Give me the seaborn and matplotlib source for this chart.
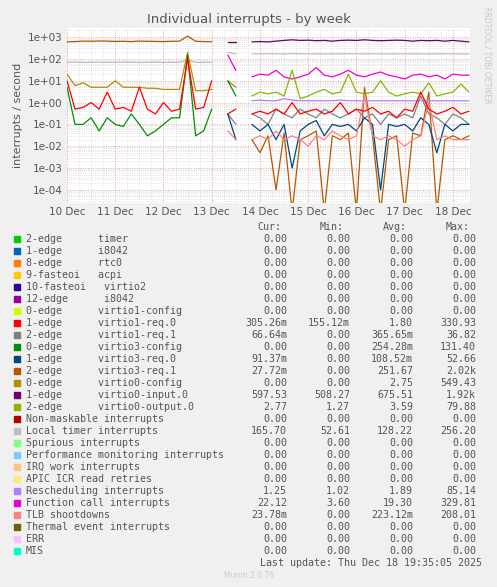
import numpy as np
import pandas as pd
import matplotlib
matplotlib.use("Agg")
import matplotlib.pyplot as plt
import matplotlib.dates as mdates
from matplotlib.ticker import LogLocator, FixedLocator
import seaborn as sns

N = np.nan

# 4-hourly samples, 10 Dec 00:00 .. 18 Dec 08:00 (51 points)
times = pd.date_range("2025-12-10 00:00", periods=51, freq="4h")

pre_gap = [N]  # idx 19
mid_gap = [N]  # idx 22

brown_pre = [600, 620, 650, 640, 660, 650, 630, 640, 620, 650, 640, 630, 620, 640, 650, 1100, 640, 620, 610]
brown_post = [0.02, 0.005, 0.03, 0.0001, 0.04, 0.00001, 0.02, 0.03, 0.05, 0.00001, 0.03, 0.02, 0.04, 0.00001,
              5, 0.03, 0.00001, 0.02, 0.03, 0.00001, 0.04, 0.03, 3, 0.00001, 0.02, 0.03, 0.02, 0.03]
virtio3_req1 = brown_pre + pre_gap + [600, 600] + mid_gap + brown_post

local_timer = ([70, 72, 68, 70, 71, 69, 70, 72, 70, 68, 70, 71, 69, 70, 70, 90, 70, 70, 70] + pre_gap
               + [200, 170] + mid_gap
               + [170, 170, 172, 170, 168, 175, 170, 170, 170, 168, 170, 170, 172, 170, 170, 170, 170, 168,
                  170, 170, 170, 170, 168, 170, 170, 170, 168, 165])

virtio0_config = ([20, 6, 8, 5, 5, 5, 10, 5, 5, 5, 4.5, 4.5, 4, 4, 4, 200, 3.5, 3.5, 4] + pre_gap
                  + [10, 5] + mid_gap + [N] * 28)

virtio1_req0 = ([10, 0.5, 0.6, 1, 0.5, 3, 0.5, 0.6, 0.4, 5, 0.5, 0.3, 1, 0.4, 0.5, 100, 0.5, 0.6, 10] + pre_gap
                + [0.3, 0.5] + mid_gap
                + [0.3, 0.4, 0.3, 0.5, 0.3, 1, 0.3, 0.4, 0.5, 0.3, 0.4, 1, 0.3, 0.5, 0.4, 0.6, 0.3, 0.4,
                   0.2, 0.5, 0.4, 3, 0.5, 0.3, 0.4, 0.6, 0.3, 0.4])

virtio3_config = ([5, 0.1, 0.1, 0.2, 0.05, 0.2, 0.1, 0.08, 0.3, 0.1, 0.03, 0.05, 0.1, 0.2, 0.2, 150, 0.03, 0.05, 0.5]
                  + pre_gap + [10, 2] + mid_gap + [N] * 28)

function_call = ([N] * 19 + pre_gap + [150, 30] + mid_gap
                 + [15, 20, 18, 30, 15, 12, 15, 20, 40, 18, 15, 20, 30, 18, 15, 20, 25, 18, 15, 12, 18, 20,
                    15, 18, 12, 20, 18, 18])

virtio0_output = ([N] * 19 + pre_gap + [N, N] + mid_gap
                  + [2, 3, 2.5, 3, 2, 30, 1.5, 2, 3, 4, 2.5, 3, 20, 3, 2.5, 3, 10, 3, 2, 2.5, 3, 2.5, 8, 2,
                     2.5, 3, 7, 3])

virtio0_input = ([N] * 19 + pre_gap + [600, 600] + mid_gap
                 + [600, 620, 600, 650, 700, 750, 700, 720, 680, 700, 650, 700, 720, 700, 750, 700, 680, 700,
                    720, 700, 650, 700, 680, 700, 650, 700, 650, 600])

rescheduling = ([N] * 19 + pre_gap + [N, N] + mid_gap
                + [1.2, 1.3, 1.2, 1.2, 1.5, 1.3, 1.2, 1.2, 1.2, 1.2, 1.2, 1.3, 1.2, 1.2, 1.2, 1.2, 1.2, 1.2,
                   1.2, 1.2, 1.2, 1.2, 1.2, 1.2, 1.2, 1.2, 1.2, 1.2])

virtio1_req1 = ([N] * 19 + pre_gap + [0.3, 0.1] + mid_gap
                + [0.3, 0.2, 0.1, 0.5, 0.3, 0.2, 0.5, 0.3, 0.2, 0.5, 0.3, 0.2, 0.3, 0.5, 0.2, 0.3, 0.1, 0.3,
                   0.2, 0.3, 0.2, 2, 0.3, 0.2, 0.1, 0.3, 0.2, 0.1])

virtio3_req0 = ([N] * 19 + pre_gap + [0.3, 0.02] + mid_gap
                + [0.1, 0.05, 0.1, 0.02, 0.1, 0.001, 0.05, 0.1, 0.15, 0.03, 0.1, 0.08, 0.1, 0.05, 0.2, 0.1,
                   0.0001, 0.1, 0.08, 0.1, 0.05, 0.2, 0.1, 0.005, 0.1, 0.05, 0.1, 0.1])

tlb = ([N] * 19 + pre_gap + [0.05, 0.02] + mid_gap
       + [0.02, 0.03, 0.02, 0.05, 0.02, 0.03, 0.02, 0.01, 0.03, 0.02, 0.05, 0.03, 0.02, 0.03, 2, 0.03, 0.02,
          0.03, 0.02, 0.01, 0.02, 0.03, 1, 0.02, 0.03, 0.02, 0.02, 0.02])

plotted = [
    (local_timer, "#BEBEBE"), (virtio3_req1, "#B35A00"), (virtio0_input, "#6B006B"),
    (function_call, "#EE00CC"), (virtio0_config, "#B38F00"), (virtio0_output, "#8FB300"),
    (rescheduling, "#AA80FF"), (virtio3_config, "#008F00"), (virtio1_req1, "#808080"),
    (virtio3_req0, "#00487D"), (tlb, "#FF8080"), (virtio1_req0, "#FF0000"),
]

legend_labels = [
    "2-edge      timer", "1-edge      i8042", "8-edge      rtc0", "9-fasteoi   acpi",
    "10-fasteoi   virtio2", "12-edge      i8042", "0-edge      virtio1-config",
    "1-edge      virtio1-req.0", "2-edge      virtio1-req.1", "0-edge      virtio3-config",
    "1-edge      virtio3-req.0", "2-edge      virtio3-req.1", "0-edge      virtio0-config",
    "1-edge      virtio0-input.0", "2-edge      virtio0-output.0", "Non-maskable interrupts",
    "Local timer interrupts", "Spurious interrupts", "Performance monitoring interrupts",
    "IRQ work interrupts", "APIC ICR read retries", "Rescheduling interrupts",
    "Function call interrupts", "TLB shootdowns", "Thermal event interrupts", "ERR", "MIS",
]
legend_colors = [
    "#00CC00", "#0066B3", "#FF8000", "#FFCC00", "#330099", "#990099", "#CCFF00", "#FF0000", "#808080",
    "#008F00", "#00487D", "#B35A00", "#B38F00", "#6B006B", "#8FB300", "#B30000", "#BEBEBE", "#80FF80",
    "#80C9FF", "#FFC080", "#FFE680", "#AA80FF", "#EE00CC", "#FF8080", "#666600", "#FFBFFF", "#00FFCC",
]
z = "0.00"
cur = [z] * 7 + ["305.26m", "66.64m", z, "91.37m", "27.72m", z, "597.53", "2.77", z, "165.70",
                 z, z, z, z, "1.25", "22.12", "23.78m", z, z, z]
mins = [z] * 7 + ["155.12m", z, z, z, z, z, "508.27", "1.27", z, "52.61",
                  z, z, z, z, "1.02", "3.60", z, z, z, z]
avgs = [z] * 7 + ["1.80", "365.65m", "254.28m", "108.52m", "251.67", "2.75", "675.51", "3.59", z, "128.22",
                  z, z, z, z, "1.89", "19.30", "223.12m", z, z, z]
maxs = [z] * 7 + ["330.93", "36.82", "131.40", "52.66", "2.02k", "549.43", "1.92k", "79.88", z, "256.20",
                  z, z, z, z, "85.14", "329.81", "208.01", z, z, z]

sns.set_style("white")
plt.rcParams["font.family"] = ["DejaVu Sans"]

W, H = 497, 587
fig = plt.figure(figsize=(W / 100, H / 100), dpi=100, facecolor="#F0F0F0")
ax = fig.add_axes([67 / W, 1 - 203 / H, (470 - 67) / W, (203 - 28) / H])
ax.set_facecolor("white")

for vals, col in plotted:
    s = pd.Series(vals, index=times)
    seg = s.isna().cumsum()
    for _, part in s.groupby(seg):
        part = part.dropna()
        if len(part) == 0:
            continue
        sns.lineplot(x=part.index, y=part.values, ax=ax, color=col, linewidth=0.9)

ax.set_yscale("log")
ax.set_ylim(2.5e-5, 2600)
ax.set_xlim(pd.Timestamp("2025-12-10 00:00"), pd.Timestamp("2025-12-18 08:30"))
ax.yaxis.set_major_locator(FixedLocator([1e-4, 1e-3, 1e-2, 1e-1, 1, 10, 100, 1000]))
ax.yaxis.set_minor_locator(LogLocator(base=10, subs=np.arange(2, 10), numticks=20))
ax.set_yticklabels(["1e-04", "1e-03", "1e-02", "1e-01", "1e+00", "1e+01", "1e+02", "1e+03"])
ax.xaxis.set_major_locator(mdates.DayLocator())
ax.xaxis.set_major_formatter(mdates.DateFormatter("%d %b"))
ax.xaxis.set_minor_locator(mdates.HourLocator(byhour=[6, 12, 18]))
ax.grid(which="major", color="#E8A0A0", linestyle=":", linewidth=0.7)
ax.grid(which="minor", color="#D0D0D0", linestyle=":", linewidth=0.5)
ax.tick_params(which="both", length=0, labelsize=7.5, colors="#555555", pad=3)
for sp in ax.spines.values():
    sp.set_visible(False)
ax.set_ylabel("interrupts / second", fontsize=8, color="#555555")
ax.set_xlabel("")

fig.text(0.5, 1 - 19 / H, "Individual interrupts - by week", ha="center", va="center",
         fontsize=9.5, color="#555555")
fig.text(487 / W, 1 - 55 / H, "RRDTOOL / TOBI OETIKER", rotation=270, ha="center", va="center",
         fontsize=5.5, color="#C8C8C8")

mono = dict(family="DejaVu Sans Mono", fontsize=7.2, color="#555555", va="center")
y0 = 227
for hdr, xr in zip(["Cur:", "Min:", "Avg:", "Max:"], [281, 344, 407, 470]):
    fig.text(xr / W, 1 - y0 / H, hdr, ha="right", **mono)
for i, lab in enumerate(legend_labels):
    y = 1 - (y0 + 12 * (i + 1)) / H
    fig.patches.append(plt.Rectangle((14 / W, y - 3 / H), 6 / W, 6 / H, transform=fig.transFigure,
                                     color=legend_colors[i]))
    fig.text(26 / W, y, lab, ha="left", **mono)
    for v, xr in zip([cur[i], mins[i], avgs[i], maxs[i]], [287, 350, 413, 476]):
        fig.text(xr / W, y, v, ha="right", **mono)
fig.text(482 / W, 1 - 563 / H, "Last update: Thu Dec 18 19:35:05 2025", ha="right", **mono)
fig.text(0.5, 1 - 576 / H, "Munin 2.0.76", ha="center", va="center", fontsize=5.5, color="#CCCCCC")

fig.savefig("out.png", dpi=100, facecolor=fig.get_facecolor())
